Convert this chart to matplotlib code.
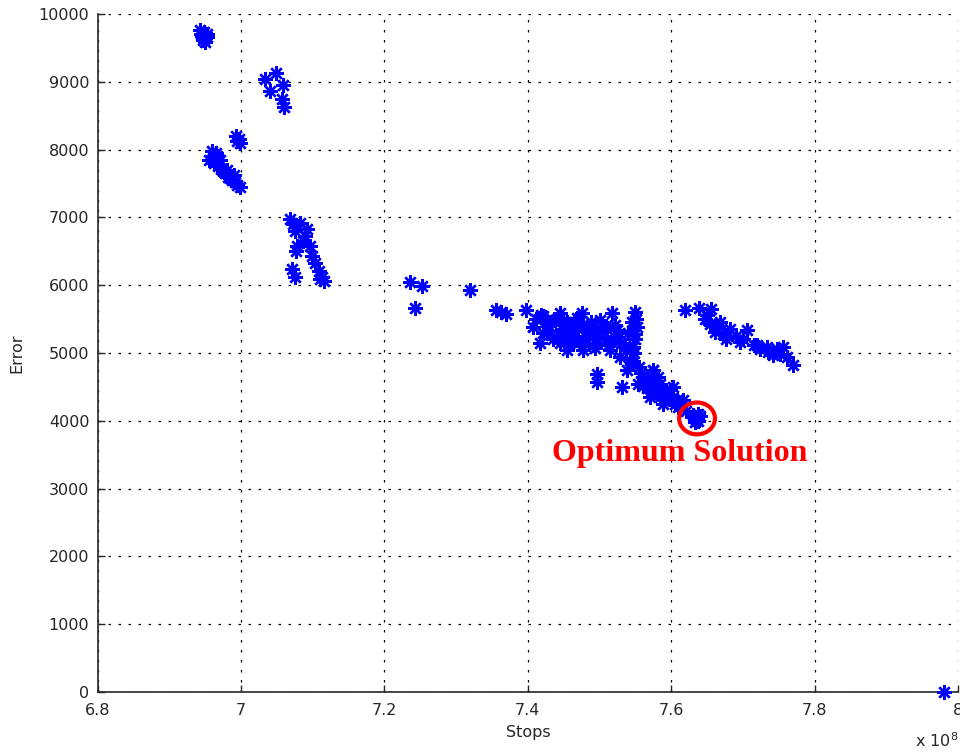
import matplotlib
matplotlib.use("Agg")
import matplotlib.pyplot as plt
from matplotlib.patches import Ellipse

# Stops in units of 1e8, Error values
stops_top = [6.943, 6.948, 6.952, 6.945, 6.950, 6.947, 6.953, 6.944, 6.949]
error_top = [9760, 9730, 9700, 9680, 9650, 9620, 9660, 9710, 9590]

stops_b = [7.034, 7.049, 7.040, 7.059, 7.057, 7.060]
error_b = [9040, 9128, 8868, 8956, 8745, 8632]

stops_c = [6.993, 6.997, 6.999, 6.995]
error_c = [8200, 8150, 8090, 8120]

stops_d = [6.955, 6.960, 6.965, 6.962, 6.968, 6.972, 6.975, 6.978, 6.982,
           6.985, 6.988, 6.992, 6.995, 6.998, 6.970, 6.980, 6.990, 6.966]
error_d = [7850, 7980, 7950, 7800, 7760, 7720, 7680, 7650, 7600,
           7580, 7550, 7520, 7480, 7450, 7850, 7700, 7620, 7900]

stops_e = [7.068, 7.082, 7.075, 7.089, 7.078, 7.077, 7.096, 7.099, 7.103,
           7.108, 7.110, 7.115, 7.086, 7.092, 7.071, 7.075, 7.113, 7.072]
error_e = [6980, 6920, 6805, 6730, 6585, 6510, 6585, 6437, 6334,
           6216, 6098, 6069, 6658, 6835, 6239, 6128, 6120, 6900]

stops_f = [7.236, 7.253, 7.243, 7.319, 7.356, 7.370, 7.362]
error_f = [6040, 5995, 5667, 5932, 5637, 5568, 5600]

stops_main = [7.397, 7.421, 7.445, 7.475, 7.517, 7.549, 7.552, 7.524, 7.421,
              7.417, 7.445, 7.468, 7.491, 7.515, 7.529, 7.547, 7.538, 7.496,
              7.496, 7.531, 7.566, 7.575, 7.584, 7.570, 7.589, 7.598, 7.608,
              7.454, 7.477, 7.502, 7.454, 7.477, 7.407, 7.438, 7.616, 7.602,
              7.575, 7.562, 7.584, 7.430, 7.460, 7.490, 7.510, 7.530, 7.440,
              7.465, 7.485, 7.505, 7.540, 7.550, 7.548, 7.545, 7.555, 7.560,
              7.590, 7.610, 7.620, 7.580, 7.595, 7.500, 7.470, 7.440, 7.425,
              7.435, 7.455, 7.480, 7.520, 7.537, 7.553, 7.572, 7.605,
              7.412, 7.428, 7.448, 7.462, 7.483, 7.498, 7.508, 7.527, 7.535,
              7.450, 7.472, 7.493, 7.512, 7.432, 7.458, 7.488, 7.545, 7.551,
              7.549, 7.543, 7.558, 7.566, 7.578, 7.587, 7.597, 7.612, 7.568,
              7.592, 7.581, 7.561, 7.418, 7.443, 7.468, 7.503, 7.522]
error_main = [5627, 5553, 5583, 5583, 5583, 5602, 5381, 5332, 5288,
              5141, 5141, 5185, 5111, 5038, 4940, 5086, 4743, 4694,
              4571, 4497, 4644, 4743, 4546, 4350, 4252, 4448, 4301,
              5332, 5435, 5288, 5038, 5038, 5381, 5480, 4301, 4497,
              4743, 4596, 4350, 5400, 5250, 5350, 5200, 5150, 5500,
              5450, 5250, 5400, 5300, 5200, 5000, 4850, 4800, 4650,
              4400, 4200, 4150, 4500, 4350, 5480, 5350, 5230, 5450,
              5200, 5450, 5150, 5250, 5050, 4550, 4600, 4250,
              5500, 5420, 5360, 5300, 5320, 5200, 5380, 5180, 5100,
              5220, 5160, 5080, 5120, 5260, 5140, 5460, 5450, 5500,
              5280, 4900, 4700, 4480, 4420, 4380, 4320, 4230, 4560,
              4460, 4650, 4520, 5560, 5500, 5520, 5340, 5420]

stops_opt = [7.632, 7.636, 7.640, 7.634, 7.638, 7.630, 7.637, 7.633]
error_opt = [4060, 4040, 4070, 4010, 4000, 4080, 4100, 3980]

stops_g = [7.619, 7.639, 7.656, 7.647, 7.654, 7.668, 7.661, 7.682, 7.677,
           7.706, 7.696, 7.715, 7.733, 7.747, 7.756, 7.761, 7.770, 7.742,
           7.724, 7.650, 7.690, 7.735, 7.752, 7.663, 7.672, 7.700, 7.720]
error_g = [5627, 5661, 5642, 5505, 5431, 5455, 5308, 5357, 5210,
           5332, 5160, 5111, 5086, 5062, 5086, 4940, 4817, 4964,
           5062, 5560, 5250, 5020, 4990, 5390, 5280, 5200, 5120]

stops_far = [7.980]
error_far = [0]

xticks = [6.8, 7.0, 7.2, 7.4, 7.6, 7.8, 8.0]
xticklabels = ["6.8", "7", "7.2", "7.4", "7.6", "7.8", "8"]
yticks = list(range(0, 10001, 1000))

fig = plt.figure(figsize=(9.6, 7.52), dpi=100)
ax = fig.add_axes([97.7 / 960, 60 / 752, 860.3 / 960, 678 / 752])

marker = (8, 2, 0)
for xs, ys in [(stops_top, error_top), (stops_b, error_b), (stops_c, error_c),
               (stops_d, error_d), (stops_e, error_e), (stops_f, error_f),
               (stops_main, error_main), (stops_opt, error_opt),
               (stops_g, error_g), (stops_far, error_far)]:
    ax.plot(xs, ys, linestyle="none", marker=marker, markersize=10.5,
            markeredgewidth=1.7, color=(0, 0, 1), clip_on=False, zorder=3)

ax.set_xlim(6.8, 8.0)
ax.set_ylim(0, 10000)
ax.set_xticks(xticks)
ax.set_xticklabels(xticklabels)
ax.set_yticks(yticks)

ax.grid(True, color="black", linestyle=(0, (2, 6)), linewidth=0.9)
ax.set_axisbelow(True)

for side in ("top", "right"):
    ax.spines[side].set_visible(False)
for side in ("left", "bottom"):
    ax.spines[side].set_color("#262626")
    ax.spines[side].set_linewidth(1.2)

ax.tick_params(direction="in", length=5, width=1, colors="#262626",
               labelsize=11.5, pad=6)
ax.tick_params(axis="x", pad=8)

ax.set_xlabel("Stops", fontsize=11.5, color="#262626", labelpad=5)
ax.set_ylabel("Error", fontsize=11.5, color="#262626", labelpad=10)

fig.text(915 / 960, 2 / 752, r"x 10$^{8}$", fontsize=11.5, color="#262626",
         ha="left", va="bottom")

# Highlight of the optimum point
ax.add_patch(Ellipse((7.636, 4035), width=0.050, height=470, fill=False,
                     edgecolor="red", linewidth=3, zorder=4, clip_on=False))
ax.text(7.612, 3520, "Optimum Solution", color="red", fontsize=23,
        fontweight="bold", family="Liberation Serif", ha="center", va="center")

fig.savefig("out.png", dpi=100)
